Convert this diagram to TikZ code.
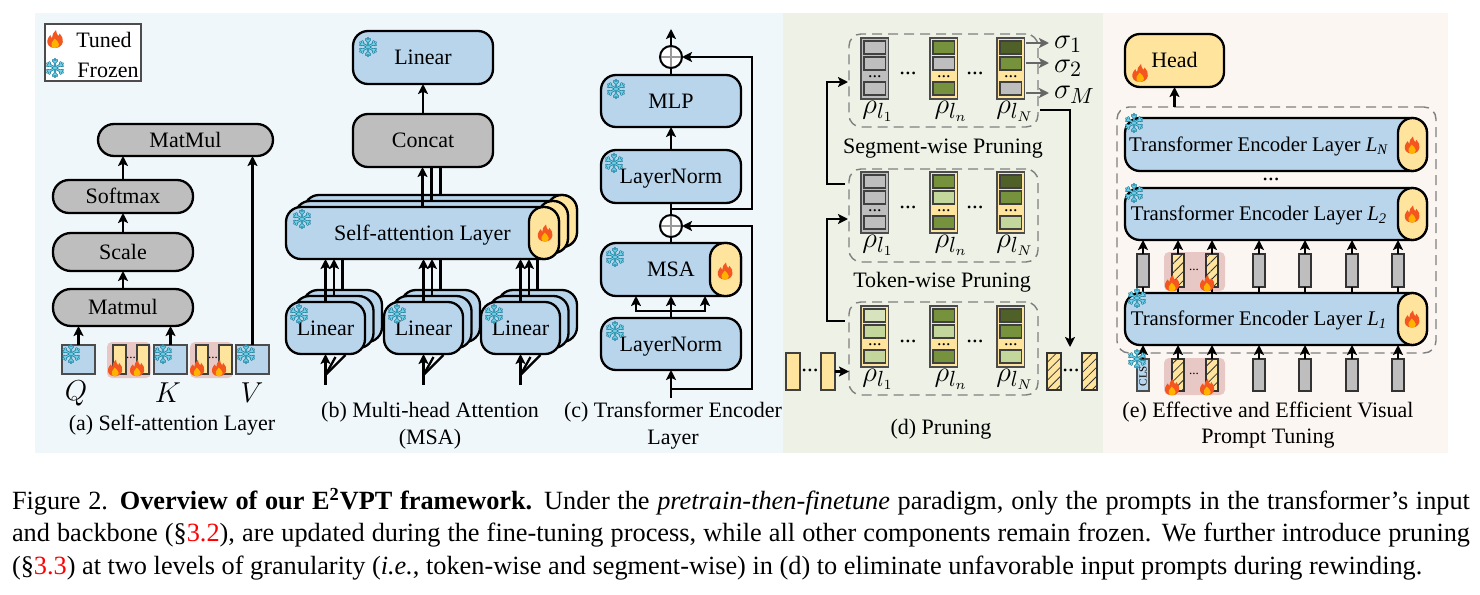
\documentclass[tikz,border=0pt]{standalone}
\usepackage{fontspec}
\setmainfont{Liberation Serif}
\usetikzlibrary{arrows.meta,patterns.meta,calc}
\definecolor{bgA}{HTML}{F0F7FA}
\definecolor{bgD}{HTML}{EEF2E6}
\definecolor{bgE}{HTML}{FBF6F1}
\definecolor{bl}{HTML}{B9D5EC}
\definecolor{gr}{HTML}{BEBEBE}
\definecolor{yl}{HTML}{FFE49E}
\definecolor{pk}{HTML}{E8C8C4}
\definecolor{gA}{HTML}{76923C}
\definecolor{gB}{HTML}{4F6128}
\definecolor{gC}{HTML}{C3D69B}
\definecolor{gD}{HTML}{D7E3BC}
\definecolor{snowA}{HTML}{1E7F9C}
\definecolor{snowB}{HTML}{6FD0E8}
\definecolor{flA}{HTML}{F4561F}
\definecolor{flB}{HTML}{FFB300}
\newcommand\bx[7]{\pgfmathsetmacro\bxw{((#4)-(#2))*0.5}\pgfmathsetmacro\bxh{((#5)-(#3))*0.5}%
  \node[#6,minimum width=\bxw pt,minimum height=\bxh pt] (#1) at ({((#2)+(#4))/2},{((#3)+(#5))/2}) {#7};}
\newcommand\colm[7]{%
  \bx{#1}{#2}{#3}{(#2)+27.5}{(#3)+61}{colbox,fill=#4}{}%
  \bx{#1a}{(#2)+3}{(#3)+3}{(#2)+24.5}{(#3)+16}{cellbox,fill=#5}{}%
  \bx{#1b}{(#2)+3}{(#3)+19}{(#2)+24.5}{(#3)+32}{cellbox,fill=#6}{}%
  \bx{#1c}{(#2)+3}{(#3)+44}{(#2)+24.5}{(#3)+57}{cellbox,fill=#7}{}%
  \node[celldot] (#1d) at ({(#2)+13.75},{(#3)+39}) {...};}
\tikzset{
  x=0.5pt,y=-0.5pt,
  every node/.style={inner sep=0pt,outer sep=0pt},
  lbl/.style={font=\fontsize{11}{12}\selectfont,text=black,text height=8.1pt,text depth=1.1pt},
  lblT/.style={font=\fontsize{10.4}{12}\selectfont,text=black,text height=8.1pt,text depth=1.1pt},
  dotlbl/.style={font=\fontsize{11.5}{12}\selectfont},
  celldot/.style={font=\fontsize{9}{10}\selectfont},
  tinydot/.style={font=\fontsize{6.5}{8}\selectfont},
  basebox/.style={draw=black,line width=1.15pt,rounded corners=7.5pt,lbl},
  gbox/.style={basebox,fill=gr},
  bbox/.style={basebox,fill=bl},
  ybox/.style={basebox,fill=yl},
  capbox/.style={draw=black,line width=1.15pt,fill=yl,rounded corners=7.4pt},
  colbox/.style={draw=black!70,line width=0.7pt},
  cellbox/.style={draw=black!75,line width=0.8pt},
  promptbox/.style={draw=black!75,line width=0.6pt,fill=yl},
  bluebox/.style={draw=black!70,line width=0.6pt,fill=bl},
  hatchbox/.style={draw=black!80,line width=0.6pt,preaction={fill=yl},pattern={Lines[angle=45,distance=3.2pt,line width=0.4pt]},pattern color=black!80},
  tokbox/.style={draw=black!80,line width=0.6pt,fill=gr},
  pinkbg/.style={fill=pk,rounded corners=2.5pt},
  dashbox/.style={draw=black!50,line width=0.7pt,dash pattern=on 5pt off 3pt,rounded corners=6pt},
  ln/.style={draw=black,line width=1.15pt},
  arr/.style={ln,-{Stealth[length=5pt,width=5pt,inset=1.1pt]}},
  garr/.style={draw=black!60,line width=1.1pt,-{Stealth[length=5pt,width=5pt,inset=1.1pt]}},
  plusnode/.style={circle,draw=black,line width=1pt,fill=white,minimum size=11pt,
    path picture={\draw[black!40,line width=0.7pt] (path picture bounding box.north)--(path picture bounding box.south) (path picture bounding box.west)--(path picture bounding box.east);}},
  flamepic/.pic={
    \fill[flA] (0,9) .. controls (-6,9) and (-8.5,5) .. (-7.5,1) .. controls (-7,-1) and (-6,-2.5) .. (-4.5,-4)
      .. controls (-4.5,-2.5) and (-4,-1.5) .. (-3,-1) .. controls (-3,-4) and (-1.5,-7) .. (1,-9)
      .. controls (1,-6) and (2.5,-4.5) .. (3.5,-3) .. controls (4,-3.5) and (4.5,-4.5) .. (4.6,-5.5)
      .. controls (7,-3) and (8.5,0) .. (7.8,3) .. controls (7.2,6.5) and (4,9) .. (0,9) -- cycle;
    \fill[flB] (0,9) .. controls (-3.5,9) and (-4.5,6) .. (-3.5,4) .. controls (-2.5,2.5) and (-1,1.5) .. (-0.3,-0.5)
      .. controls (1.5,1.5) and (4,3.5) .. (4,5.5) .. controls (4,7.5) and (2.5,9) .. (0,9) -- cycle;
  },
  snowpic/.pic={
    \foreach \a in {30,90,150,210,270,330}{
      \draw[snowA,line width=1.2pt,line cap=round] (0,0) -- (\a:9) (\a:5.6) -- ++(\a+45:3) (\a:5.6) -- ++(\a-45:3);
    }
    \foreach \a in {30,90,150,210,270,330}{
      \draw[snowB,line width=0.45pt,line cap=round] (0,0) -- (\a:9) (\a:5.6) -- ++(\a+45:3) (\a:5.6) -- ++(\a-45:3);
    }
  }
}
\begin{document}
\begin{tikzpicture}
\useasboundingbox (0,0) rectangle (1480,595);
\fill[white] (0,0) rectangle (1480,595);
\fill[bgA] (35,13) rectangle (783,453);
\fill[bgD] (783,13) rectangle (1103,453);
\fill[bgE] (1103,13) rectangle (1448,453);

% legend
\bx{legend}{45}{24}{141}{81}{draw=black!70,line width=0.6pt,fill=white}{}
\node[lbl] (tTuned) at (104,40) {Tuned};
\node[lbl] (tFrozen) at (108,70) {Frozen};
\pic at (55,39) {flamepic};
\pic at (55,68) {snowpic};

% (a)
\bx{mat}{98}{124}{273}{156}{gbox,rounded corners=8pt}{MatMul}
\bx{soft}{53}{180}{193}{213}{gbox,rounded corners=8pt}{Softmax}
\bx{scale}{53}{233}{193}{271}{gbox,rounded corners=9pt}{Scale}
\bx{mm}{53}{289}{193}{326}{gbox,rounded corners=9pt}{Matmul}
\bx{pinkA}{107}{342}{151}{378}{pinkbg}{}
\bx{pinkB}{190}{342}{233}{378}{pinkbg}{}
\bx{Qb}{62}{345}{95}{374}{bluebox}{}
\bx{Kb}{154}{345}{187}{374}{bluebox}{}
\bx{Vb}{236}{345}{269}{374}{bluebox}{}
\bx{pa1}{113}{345}{126}{374}{promptbox}{}
\bx{pa2}{137}{345}{149}{374}{promptbox}{}
\bx{pa3}{196}{345}{208}{374}{promptbox}{}
\bx{pa4}{219}{345}{232}{374}{promptbox}{}
\node[tinydot] (da1) at (131,358) {...};
\node[tinydot] (da2) at (213,358) {...};
\pic[scale=0.92] at (115,368) {flamepic};
\pic[scale=0.92] at (137,368) {flamepic};
\pic[scale=0.92] at (197,368) {flamepic};
\pic[scale=0.92] at (219,368) {flamepic};
\pic at (71,354) {snowpic};
\pic at (163,354) {snowpic};
\pic at (246,354) {snowpic};
\node[font=\fontsize{13.5}{15}\selectfont] (Ql) at (76,393) {$Q$};
\node[font=\fontsize{13.5}{15}\selectfont] (Kl) at (168,393) {$K$};
\node[font=\fontsize{13.5}{15}\selectfont] (Vl) at (252,393) {$V$};
\node[lbl] (capA) at (172,423) {(a) Self-attention Layer};
\draw[arr] (Qb.north) -- (Qb.north |- mm.south);
\draw[arr] (Kb.north) -- (Kb.north |- mm.south);
\draw[arr] (Vb.north) -- (Vb.north |- mat.south);
\draw[arr] (mm.north) -- (scale.south);
\draw[arr] (scale.north) -- (soft.south);
\draw[arr] (soft.north) -- (soft.north |- mat.south);

% (b)
\bx{linT}{353}{31}{493}{84}{bbox}{Linear}
\bx{conc}{353}{114}{493}{167}{gbox}{Concat}
\bx{saC}{304}{195}{577}{247}{bbox}{}
\bx{saCc}{547}{195}{577}{247}{capbox}{}
\bx{saB}{295}{201}{568}{253}{bbox}{}
\bx{saBc}{538}{201}{568}{253}{capbox}{}
\bx{saA}{286}{207}{559}{259}{bbox}{Self-attention Layer}
\bx{saAc}{529}{207}{559}{259}{capbox}{}
\pic[scale=0.95] at (545,233) {flamepic};
\pic at (302,219) {snowpic};
\pic at (368,47) {snowpic};
\foreach \n/\xa in {p/286,q/384,r/481}{
  \bx{lin\n C}{\xa+17}{290}{\xa+96}{342}{bbox}{}
  \bx{lin\n B}{\xa+8.5}{296}{\xa+87.5}{348}{bbox}{}
  \bx{lin\n A}{\xa}{302}{\xa+79}{354}{bbox}{Linear}
  \pic at (\xa+13,314) {snowpic};
  \draw[arr] (lin\n A.north) -- (lin\n A.north |- saA.south);
  \draw[arr] (lin\n B.north) -- (lin\n B.north |- saA.south);
  \draw[ln] (lin\n C.north) -- (lin\n C.north |- saA.south);
  \coordinate (in\n) at (\xa+39.5,385);
  \coordinate (sp\n) at (\xa+39.5,375);
  \coordinate (dB\n) at (\xa+49.5,357);
  \coordinate (dC\n) at (\xa+59.5,355);
  \draw[arr] (in\n) -- (lin\n A.south);
  \draw[ln] (sp\n) -- (dB\n);
  \draw[ln] (sp\n) -- (dC\n);
}
\draw[arr] (conc.north) -- (linT.south);
\draw[arr] (saA.north) -- (saA.north |- conc.south);
\draw[ln] (saB.north) -- (saB.north |- conc.south);
\draw[ln] (saC.north) -- (saC.north |- conc.south);
\node[lbl] (capB) at (430,410) {(b) Multi-head Attention};
\node[lbl] (capBb) at (430,437) {(MSA)};

% (c)
\bx{mlp}{601}{75}{741}{127}{bbox}{MLP}
\bx{lnU}{601}{150}{741}{203}{bbox}{LayerNorm}
\bx{msa}{601}{243}{741}{296}{bbox}{MSA}
\bx{msac}{710}{243}{741}{296}{capbox}{}
\bx{lnL}{601}{318}{741}{370}{bbox}{LayerNorm}
\node[plusnode] (pU) at (671,57) {};
\node[plusnode] (pL) at (671,226) {};
\coordinate (outC) at (671,29);
\coordinate (inC) at (671,398);
\coordinate (brL) at (671,389);
\coordinate (brU) at (671,209);
\coordinate (brM) at (671,311);
\coordinate (msaLt) at (636,296);
\coordinate (msaRt) at (705,296);
\draw[arr] (pU.north) -- (outC);
\draw[ln] (mlp.north) -- (pU.south);
\draw[arr] (lnU.north) -- (mlp.south);
\draw[ln] (lnU.south) -- (pL.north);
\draw[ln] (pL.south) -- (msa.north);
\draw[arr] (lnL.north) -- (msa.south);
\draw[arr] (brM) -| (msaLt);
\draw[arr] (brM) -| (msaRt);
\draw[arr] (inC) -- (lnL.south);
\draw[arr] (brL) -- ++(81,0) |- (pL.east);
\draw[arr] (brU) -- ++(81,0) |- (pU.east);
\pic at (616,89) {snowpic};
\pic at (614,163) {snowpic};
\pic at (615,257) {snowpic};
\pic at (615,331) {snowpic};
\pic[scale=0.95] at (725,271) {flamepic};
\node[lbl] (capC) at (673,410) {(c) Transformer Encoder};
\node[lbl] (capCb) at (673,437) {Layer};

% (d)
\bx{dashS}{849}{34}{1038}{127}{dashbox}{}
\bx{dashT}{849}{169}{1038}{262}{dashbox}{}
\bx{dashP}{849}{302}{1038}{395}{dashbox}{}
\colm{sA}{861}{38}{gr}{gr}{gr}{gr}
\colm{sB}{930}{38}{yl}{gA}{gr}{gA}
\colm{sC}{997}{38}{yl}{gB}{gA}{gr}
\colm{tA}{861}{172}{gr}{gr}{gr}{gr}
\colm{tB}{930}{172}{yl}{gA}{gC}{gA}
\colm{tC}{997}{172}{yl}{gB}{gA}{gC}
\colm{uA}{861}{306}{yl}{gD}{gC}{gC}
\colm{uB}{930}{306}{yl}{gA}{gC}{gA}
\colm{uC}{997}{306}{yl}{gB}{gA}{gC}
\foreach \n/\yy in {s/38,t/172,u/306}{
  \node[font=\fontsize{15}{16}\selectfont,anchor=base] (rhoA\n) at (878,\yy+75) {$\rho_{l_1}$};
  \node[font=\fontsize{15}{16}\selectfont,anchor=base] (rhoB\n) at (951,\yy+75) {$\rho_{l_n}$};
  \node[font=\fontsize{15}{16}\selectfont,anchor=base] (rhoC\n) at (1015,\yy+75) {$\rho_{l_N}$};
  \node[dotlbl] (dA\n) at (908,\yy+35) {...};
  \node[dotlbl] (dB\n) at (975,\yy+35) {...};
}
\node[font=\fontsize{15}{16}\selectfont,anchor=base west] (sig1) at (1054,48) {$\sigma_1$};
\node[font=\fontsize{15}{16}\selectfont,anchor=base west] (sig2) at (1054,72) {$\sigma_2$};
\node[font=\fontsize{15}{16}\selectfont,anchor=base west] (sigM) at (1054,98) {$\sigma_M$};
\coordinate (sa) at (1026,43); \coordinate (sae) at (1049,43);
\coordinate (sb) at (1026,63); \coordinate (sbe) at (1049,63);
\coordinate (sc) at (1026,93); \coordinate (sce) at (1049,93);
\draw[garr] (sa) -- (sae);
\draw[garr] (sb) -- (sbe);
\draw[garr] (sc) -- (sce);
\node[lbl] (tSeg) at (943,146) {Segment-wise Pruning};
\node[lbl] (tTok) at (942,280) {Token-wise Pruning};
\node[lbl] (capD) at (941,427) {(d) Pruning};
\bx{inA}{786}{353}{800}{390}{promptbox}{}
\bx{inB}{821}{353}{835}{390}{promptbox}{}
\bx{outA}{1047}{353}{1061}{390}{hatchbox}{}
\bx{outB}{1082}{353}{1097}{390}{hatchbox}{}
\node[dotlbl] (dIn) at (810,370) {...};
\node[dotlbl] (dOut) at (1071,370) {...};
\coordinate (lpA) at (845,321); \coordinate (lpAe) at (848,219);
\coordinate (lpB) at (845,184); \coordinate (lpBe) at (848,82);
\coordinate (rp) at (1040,110); \coordinate (rpe) at (1070,347);
\draw[arr] (lpA) -- ++(-18,0) |- (lpAe);
\draw[arr] (lpB) -- ++(-18,0) |- (lpBe);
\draw[arr] (rp) -| (rpe);
\draw[arr] (inB.east) -- (inB.east -| dashP.west);

% (e)
\bx{head}{1125}{34}{1224}{87}{ybox}{Head}
\pic at (1140,73) {flamepic};
\bx{dashE}{1117}{107}{1436}{353}{dashbox}{}
\draw[arr] (dashE.north -| head.south) -- (head.south);
\foreach \n/\ya/\yb/\lab/\yt in {N/118/171/{\textsubscript{\textit{N}}}/145,B/188/240/{\textsubscript{\textit{2}}}/214,A/293/345/{\textsubscript{\textit{1}}}/319}{
  \bx{L\n}{1125}{\ya}{1427}{\yb}{bbox}{}
  \bx{L\n c}{1398}{\ya}{1427}{\yb}{capbox}{}
  \pic[scale=0.95] at (1412,\yt) {flamepic};
  \node[lblT] (tL\n) at (1259,\yt-1) {Transformer Encoder Layer \textit{L}\lab};
}
\node[dotlbl] (dL) at (1271,179) {...};
\bx{pinkC}{1164}{252}{1225}{291}{pinkbg}{}
\bx{pinkD}{1164}{358}{1225}{395}{pinkbg}{}
\foreach \n/\xc/\st in {1/1143/tokbox,2/1178/hatchbox,3/1212/hatchbox,4/1259/tokbox,5/1305/tokbox,6/1352/tokbox,7/1398/tokbox}{
  \bx{up\n}{\xc-6}{254}{\xc+6}{287}{\st}{}
  \draw[arr] (up\n.north) -- (up\n.north |- LB.south);
  \draw[ln] (LA.north -| up\n.south) -- (up\n.south);
}
\foreach \n/\xc/\st in {1/1143/bluebox,2/1178/hatchbox,3/1212/hatchbox,4/1259/tokbox,5/1305/tokbox,6/1352/tokbox,7/1398/tokbox}{
  \bx{lo\n}{\xc-6}{359}{\xc+6}{391}{\st}{}
  \draw[arr] (lo\n.north) -- (lo\n.north |- LA.south);
}
\node[rotate=90,font=\fontsize{5.5}{6}\selectfont] (cls) at (1143,376) {CLS};
\node[tinydot] (dUp) at (1194,270) {...};
\node[tinydot] (dLo) at (1194,374) {...};
\pic[scale=0.92] at (1172,283) {flamepic};
\pic[scale=0.92] at (1207,283) {flamepic};
\pic[scale=0.92] at (1172,387) {flamepic};
\pic[scale=0.92] at (1207,387) {flamepic};
\pic at (1134,123) {snowpic};
\pic at (1134,193) {snowpic};
\pic at (1137,298) {snowpic};
\pic at (1137,359) {snowpic};
\node[lbl] (capE) at (1268,410) {(e) Effective and Efficient Visual};
\node[lbl] (capEb) at (1268,436) {Prompt Tuning};

% figure caption
\node[anchor=base west,font=\fontsize{13.15}{15}\selectfont] (fcA) at (12,509) {\makebox[729pt][s]{Figure 2. \textbf{Overview of our E\textsuperscript{2}VPT framework.} Under the \textit{pretrain-then-finetune} paradigm, only the prompts in the transformer’s input}};
\node[anchor=base west,font=\fontsize{13.15}{15}\selectfont] (fcB) at (12,541) {\makebox[729pt][s]{and backbone (§\textcolor{red}{3.2}), are updated during the fine-tuning process, while all other components remain frozen. We further introduce pruning}};
\node[anchor=base west,font=\fontsize{13.15}{15}\selectfont] (fcC) at (12,574) {(§\textcolor{red}{3.3}) at two levels of granularity (\textit{i.e.}, token-wise and segment-wise) in (d) to eliminate unfavorable input prompts during rewinding.};
\end{tikzpicture}
\end{document}
